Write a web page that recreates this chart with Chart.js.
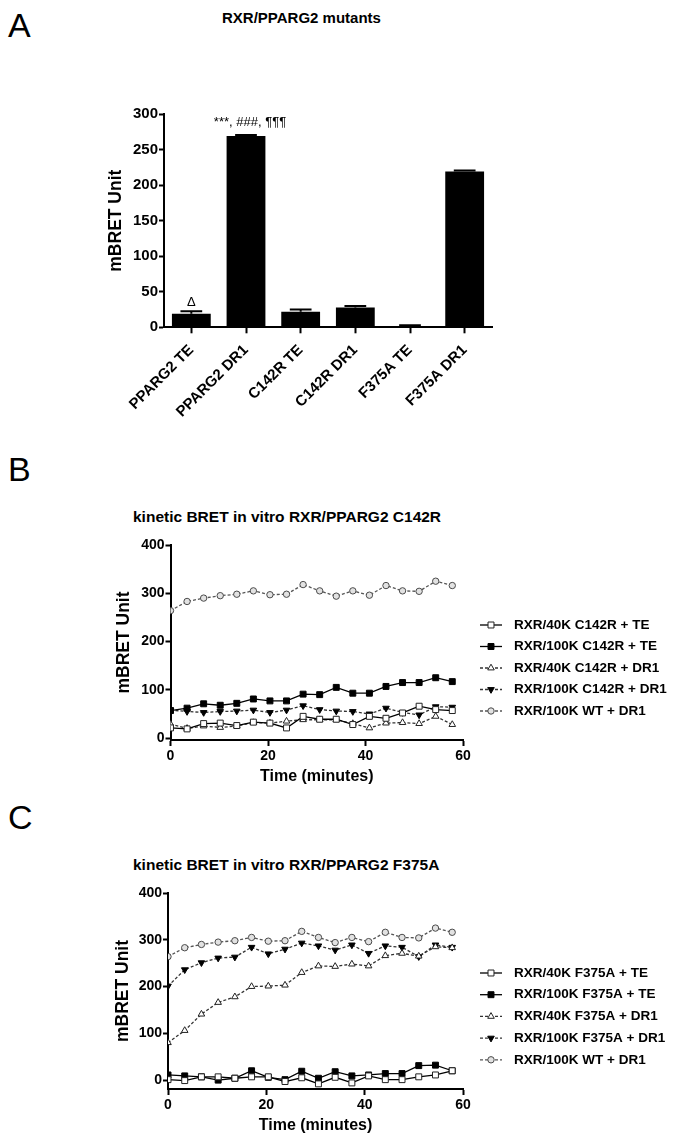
<!DOCTYPE html>
<html>
<head>
<meta charset="utf-8">
<script src="https://cdn.jsdelivr.net/npm/chart.js@4.4.1/dist/chart.umd.min.js"></script>
<style>
  body { margin:0; background:#fff; width:685px; height:1147px; position:relative; overflow:hidden; font-family:"Liberation Sans", Arial, sans-serif; }
  .txt { position:absolute; white-space:nowrap; color:#000; line-height:1; }
  .letter { font-size:34px; font-weight:normal; }
  .ttl { font-size:15.5px; font-weight:bold; }
  canvas { position:absolute; left:0; }
</style>
</head>
<body>
<div class="txt letter" style="left:8px;top:8px">A</div>
<div class="txt ttl" style="left:222px;top:10px;font-size:15px">RXR/PPARG2 mutants</div>
<div class="txt letter" style="left:8px;top:452px">B</div>
<div class="txt ttl" style="left:133px;top:509px">kinetic BRET in vitro RXR/PPARG2 C142R</div>
<div class="txt letter" style="left:8px;top:800px">C</div>
<div class="txt ttl" style="left:133px;top:857px">kinetic BRET in vitro RXR/PPARG2 F375A</div>

<canvas id="cA" width="685" height="440" style="top:0"></canvas>
<canvas id="cB" width="685" height="300" style="top:500px"></canvas>
<canvas id="cC" width="685" height="307" style="top:840px"></canvas>

<script>
// ---- Panel A : bar chart ----
const barLabels = ['PPARG2 TE', 'PPARG2 DR1', 'C142R TE', 'C142R DR1', 'F375A TE', 'F375A DR1'];
const barValues = [19, 269, 22, 28, 2, 219];
const barErrors = [3.5, 1.5, 3, 2, 1, 1.5];
const barMarks  = ['\u0394', '***, ###, \u00b6\u00b6\u00b6', '', '', '', ''];
const barTicks  = [0, 50, 100, 150, 200, 250, 300];

// ---- Panels B & C : kinetics ----
const timeMin   = [0, 3.4, 6.8, 10.2, 13.6, 17, 20.4, 23.8, 27.2, 30.6, 34, 37.4, 40.8, 44.2, 47.6, 51, 54.4, 57.8];
const timeTicks = [0, 20, 40, 60];
const kinTicks  = [0, 100, 200, 300, 400];

const wtDR1 = [264, 283, 290, 295, 298, 305, 297, 298, 318, 305, 294, 305, 296, 316, 305, 304, 325, 316];

const c142rLabels = ['RXR/40K C142R + TE', 'RXR/100K C142R + TE', 'RXR/40K C142R + DR1', 'RXR/100K C142R + DR1', 'RXR/100K WT + DR1'];
const c142r40kTE   = [21, 19, 30, 31, 26, 33, 31, 21, 45, 39, 39, 28, 45, 41, 52, 66, 59, 57];
const c142r100kTE  = [57, 62, 71, 68, 72, 81, 77, 77, 91, 90, 105, 93, 93, 107, 115, 115, 125, 117];
const c142r40kDR1  = [29, 20, 25, 22, 25, 32, 31, 35, 38, 38, 38, 30, 21, 31, 32, 30, 45, 28];
const c142r100kDR1 = [58, 55, 53, 55, 56, 58, 53, 58, 67, 59, 56, 55, 50, 62, 53, 48, 65, 64];

const f375aLabels = ['RXR/40K F375A + TE', 'RXR/100K F375A + TE', 'RXR/40K F375A + DR1', 'RXR/100K F375A + DR1', 'RXR/100K WT + DR1'];
const f375a40kTE   = [1, -1, 7, 7, 4, 7, 7, -3, 5, -8, 6, -6, 9, 1, 1, 7, 11, 20];
const f375a100kTE  = [11, 9, 7, 0, 4, 20, 6, 1, 19, 4, 18, 9, 11, 14, 14, 31, 32, 20];
const f375a40kDR1  = [80, 106, 141, 166, 178, 200, 201, 203, 230, 244, 243, 248, 244, 266, 271, 265, 285, 283];
const f375a100kDR1 = [201, 236, 251, 261, 263, 284, 270, 280, 293, 287, 278, 289, 271, 287, 284, 264, 289, 284];

const FONT = '"Liberation Sans", Arial, sans-serif';

// fix the axis boxes so the plot area lands where the original has it
function fixWidth(w) { return s => { s.width = w; s.paddingTop = 0; s.paddingBottom = 0; }; }
function fixHeight(h) { return s => { s.height = h; s.paddingLeft = 0; s.paddingRight = 0; }; }
function useTicks(list) { return s => { s.ticks = list.map(v => ({ value: v })); }; }

const axisGrid = { display: true, drawOnChartArea: false, drawTicks: true, tickLength: 5, tickWidth: 2, color: '#000' };
const axisBorder = { display: true, color: '#000', width: 2 };

// error bars + significance marks on the bars
const barExtras = {
  id: 'barExtras',
  afterDatasetsDraw(chart) {
    const { ctx } = chart;
    const ys = chart.scales.y;
    const meta = chart.getDatasetMeta(0);
    ctx.save();
    ctx.strokeStyle = '#000';
    ctx.lineWidth = 2;
    meta.data.forEach((bar, i) => {
      const top = ys.getPixelForValue(barValues[i] + barErrors[i]);
      const half = bar.width * 0.28;
      ctx.beginPath();
      ctx.moveTo(bar.x, bar.y); ctx.lineTo(bar.x, top);
      ctx.moveTo(bar.x - half, top); ctx.lineTo(bar.x + half, top);
      ctx.stroke();
      if (barMarks[i]) {
        ctx.fillStyle = '#000';
        ctx.textAlign = 'center';
        ctx.textBaseline = 'alphabetic';
        ctx.font = '13px ' + FONT;
        ctx.fillText(barMarks[i], bar.x + (i === 0 ? 0 : 4), top - (i === 0 ? 5 : 9));
      }
    });
    ctx.restore();
  }
};

new Chart(document.getElementById('cA'), {
  type: 'bar',
  data: {
    labels: barLabels,
    datasets: [{ data: barValues, backgroundColor: '#000', borderWidth: 0, barPercentage: 0.71, categoryPercentage: 1 }]
  },
  options: {
    responsive: false, animation: false,
    layout: { padding: { top: 114, right: 193, left: 0, bottom: 0 } },
    plugins: { legend: { display: false }, tooltip: { enabled: false } },
    scales: {
      x: {
        grid: Object.assign({}, axisGrid, { offset: false, tickLength: 6 }),
        border: axisBorder,
        ticks: { color: '#000', font: { family: FONT, size: 15, weight: 'bold' }, maxRotation: 45, minRotation: 45, padding: 8 },
        afterFit: fixHeight(440 - 327.3)
      },
      y: {
        min: 0, max: 300,
        grid: axisGrid, border: axisBorder,
        ticks: { color: '#000', font: { family: FONT, size: 15, weight: 'bold' }, padding: 1 },
        afterBuildTicks: useTicks(barTicks),
        title: { display: true, text: 'mBRET Unit', color: '#000', font: { family: FONT, size: 17.5, weight: 'bold' }, padding: { top: 106 } },
        afterFit: fixWidth(164)
      }
    }
  },
  plugins: [barExtras]
});

// legend drawn at the right of the plot, line + marker + label
const sideLegend = {
  id: 'sideLegend',
  afterDraw(chart, args, opts) {
    const { ctx } = chart;
    ctx.save();
    chart.data.datasets.forEach((ds, i) => {
      const y = opts.y + i * opts.gap;
      ctx.strokeStyle = ds.borderColor;
      ctx.lineWidth = ds.borderWidth;
      ctx.setLineDash(ds.borderDash || []);
      ctx.beginPath(); ctx.moveTo(opts.x, y); ctx.lineTo(opts.x + 22, y); ctx.stroke();
      ctx.setLineDash([]);
      ctx.fillStyle = ds.pointBackgroundColor;
      ctx.strokeStyle = ds.pointBorderColor;
      ctx.lineWidth = 1;
      Chart.helpers.drawPoint(ctx, { pointStyle: ds.pointStyle, rotation: ds.pointRotation || 0, radius: ds.pointRadius, borderWidth: 1 }, opts.x + 11, y);
      ctx.fillStyle = '#000';
      ctx.font = 'bold 13.5px ' + FONT;
      ctx.textAlign = 'left';
      ctx.textBaseline = 'middle';
      ctx.fillText(ds.label, opts.x + 34, y);
    });
    ctx.restore();
  }
};

function series(label, values, kind) {
  const base = { label: label, data: values.map((v, i) => ({ x: timeMin[i], y: v })), borderWidth: 1.3, pointBorderWidth: 1, tension: 0 };
  const styles = {
    openSq:   { borderColor: '#000', pointStyle: 'rect', pointRadius: 4.2, pointBackgroundColor: '#fff', pointBorderColor: '#222' },
    fillSq:   { borderColor: '#000', pointStyle: 'rect', pointRadius: 4.2, pointBackgroundColor: '#000', pointBorderColor: '#000' },
    openTri:  { borderColor: '#333', borderDash: [3, 2], pointStyle: 'triangle', pointRadius: 3.8, pointBackgroundColor: '#fff', pointBorderColor: '#222' },
    fillTriD: { borderColor: '#333', borderDash: [3, 2], pointStyle: 'triangle', pointRotation: 180, pointRadius: 3.8, pointBackgroundColor: '#000', pointBorderColor: '#000' },
    circle:   { borderColor: '#555', borderDash: [3, 2], pointStyle: 'circle', pointRadius: 3.2, pointBackgroundColor: '#e2e2e2', pointBorderColor: '#4a4a4a' }
  };
  return Object.assign(base, styles[kind]);
}

function kineticChart(id, labels, sets, box) {
  new Chart(document.getElementById(id), {
    type: 'line',
    data: {
      datasets: [
        series(labels[0], sets[0], 'openSq'),
        series(labels[1], sets[1], 'fillSq'),
        series(labels[2], sets[2], 'openTri'),
        series(labels[3], sets[3], 'fillTriD'),
        series(labels[4], sets[4], 'circle')
      ]
    },
    options: {
      responsive: false, animation: false,
      layout: { padding: { top: box.top, right: box.right, left: 0, bottom: 0 } },
      plugins: { legend: { display: false }, tooltip: { enabled: false }, sideLegend: box.legend },
      scales: {
        x: {
          type: 'linear', min: 0, max: 60,
          grid: Object.assign({}, axisGrid, { tickLength: 6 }), border: axisBorder,
          ticks: { color: '#000', font: { family: FONT, size: 14, weight: 'bold' }, padding: 2 },
          afterBuildTicks: useTicks(timeTicks),
          title: { display: true, text: 'Time (minutes)', color: '#000', font: { family: FONT, size: 16, weight: 'bold' }, padding: { top: 0, bottom: box.xTitlePad } },
          afterFit: fixHeight(box.xH)
        },
        y: {
          min: box.yMin, max: 400,
          grid: axisGrid, border: axisBorder,
          ticks: { color: '#000', font: { family: FONT, size: 14, weight: 'bold' }, padding: 1 },
          afterBuildTicks: useTicks(kinTicks),
          title: { display: true, text: 'mBRET Unit', color: '#000', font: { family: FONT, size: 17.5, weight: 'bold' }, padding: { top: box.yTitlePad } },
          afterFit: fixWidth(box.yW)
        }
      }
    },
    plugins: [sideLegend]
  });
}

kineticChart('cB', c142rLabels, [c142r40kTE, c142r100kTE, c142r40kDR1, c142r100kDR1, wtDR1],
  { top: 45, right: 222, yW: 170.5, xH: 60, yMin: -4, yTitlePad: 113.5, xTitlePad: 14, legend: { x: 480, y: 125, gap: 21.5 } });

kineticChart('cC', f375aLabels, [f375a40kTE, f375a100kTE, f375a40kDR1, f375a100kDR1, wtDR1],
  { top: 53, right: 222, yW: 168, xH: 58, yMin: -19, yTitlePad: 112.5, xTitlePad: 12, legend: { x: 480, y: 133, gap: 21.7 } });
</script>
</body>
</html>
